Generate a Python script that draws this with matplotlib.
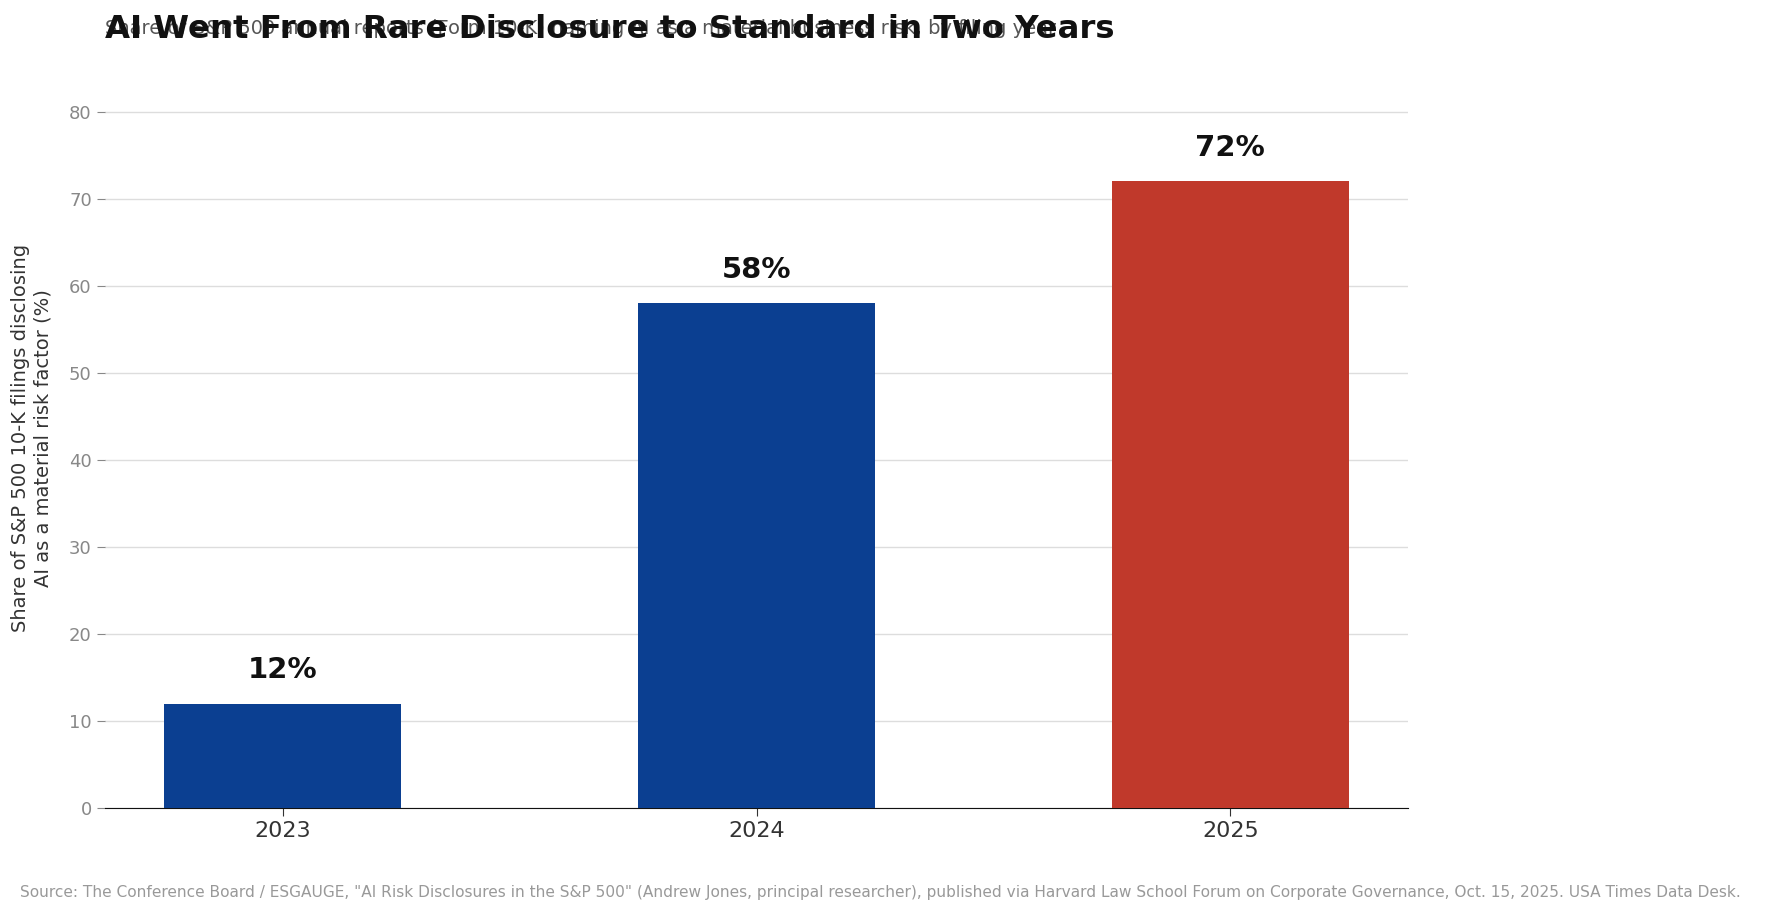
import matplotlib.pyplot as plt

years = ["2023", "2024", "2025"]
shares = [12, 58, 72]
bar_colors = ["#0b3f91", "#0b3f91", "#c0392b"]
yticks = [0, 10, 20, 30, 40, 50, 60, 70, 80]

fig = plt.figure(figsize=(17.71, 9.17), dpi=100)
ax = fig.add_axes([105 / 1771, 109 / 917, 1303 / 1771, 740 / 917])

x = range(len(years))
ax.bar(x, shares, width=0.5, color=bar_colors, zorder=3)
for xi, v in zip(x, shares):
    ax.text(xi, v + 2.2, f"{v}%", ha="center", va="bottom",
            fontsize=21, fontweight="bold", color="#111111")

ax.set_xlim(-0.375, 2.375)
ax.set_ylim(0, 85)
ax.set_xticks(list(x))
ax.set_xticklabels(years, fontsize=16, color="#333333")
ax.set_yticks(yticks)
ax.tick_params(axis="y", labelsize=13, labelcolor="#888888", color="#888888", length=6)
ax.tick_params(axis="x", length=6, color="#333333")
ax.grid(axis="y", color="#dddddd", linewidth=1, zorder=0)
for s in ["top", "right", "left"]:
    ax.spines[s].set_visible(False)
ax.spines["bottom"].set_color("#111111")
ax.set_ylabel("Share of S&P 500 10-K filings disclosing\nAI as a material risk factor (%)",
              fontsize=14, color="#333333", labelpad=12)

# subtitle and title overlap in the reference too
fig.text(105 / 1771, 1 - 28 / 917,
         "Share of S&P 500 annual reports (Form 10-K) naming AI as a material business risk, by filing year",
         fontsize=14, color="#555555", va="center")
fig.text(105 / 1771, 1 - 29 / 917, "AI Went From Rare Disclosure to Standard in Two Years",
         fontsize=23.3, fontweight="bold", color="#111111", va="center")
fig.text(20 / 1771, 1 - 893 / 917,
         'Source: The Conference Board / ESGAUGE, "AI Risk Disclosures in the S&P 500" (Andrew Jones, principal researcher), '
         "published via Harvard Law School Forum on Corporate Governance, Oct. 15, 2025. USA Times Data Desk.",
         fontsize=11.1, color="#999999", va="center")

fig.savefig("out.png", dpi=100)
